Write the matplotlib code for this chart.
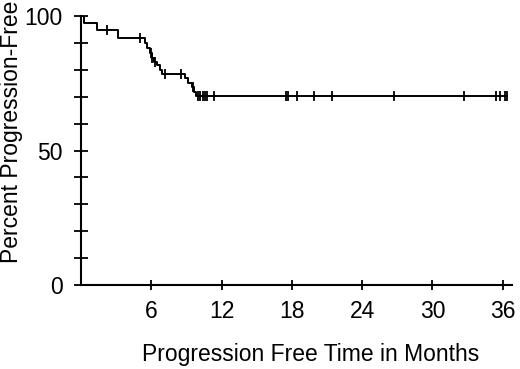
import matplotlib

matplotlib.use("Agg")
import matplotlib.pyplot as plt

plt.rcParams.update({
    "font.family": ["Liberation Sans", "DejaVu Sans"],
    "font.size": 16.5,
})

# Kaplan-Meier steps (months, percent progression-free)
step_times = [0, 0.28, 1.34, 3.18, 5.46, 5.66, 5.89, 6.03, 6.23, 6.46, 6.75, 6.94,
              8.87, 9.16, 9.44, 9.67, 9.81, 36.35]
step_pct = [100, 97.5, 94.8, 91.7, 89.9, 88.2, 86.1, 84.3, 83.0, 81.8, 80.0, 78.4,
            76.8, 75.0, 73.7, 71.9, 70.4, 70.4]

# censored observations
cens_times = [2.2, 5.05, 5.95, 6.1, 6.3, 7.2, 8.55, 9.55,
              9.96, 10.15, 10.38, 10.6, 10.8, 11.32, 17.5, 17.7, 18.4, 19.9,
              21.4, 26.7, 32.7, 35.4, 35.8, 36.2, 36.35]
cens_pct = [94.8, 91.7, 86.1, 84.3, 83.0, 78.4, 78.4, 73.7,
            70.4, 70.4, 70.4, 70.4, 70.4, 70.4, 70.4, 70.4, 70.4, 70.4,
            70.4, 70.4, 70.4, 70.4, 70.4, 70.4, 70.4]

x_ticks = [6, 12, 18, 24, 30, 36]
y_major = [0, 50, 100]
y_minor = [10, 20, 30, 40, 60, 70, 80, 90]

fig = plt.figure(figsize=(5.2, 3.69), dpi=100)
ax = fig.add_axes([81 / 520, 1 - 285 / 369, (512 - 81) / 520, (285 - 16) / 369])

ax.step(step_times, step_pct, where="post", color="black", lw=1.4)
ax.plot(cens_times, cens_pct, ls="none", marker="|", ms=7, mew=1.3, color="black")

ax.set_xlim(0, 36.8)
ax.set_ylim(0, 100)
for s in ("top", "right"):
    ax.spines[s].set_visible(False)
for s in ("left", "bottom"):
    ax.spines[s].set_linewidth(1.5)

ax.set_xticks(x_ticks)
ax.set_yticks(y_major)
ax.set_yticks(y_minor, minor=True)
ax.tick_params(axis="x", direction="inout", length=7, width=1.3, pad=7)
ax.tick_params(axis="y", which="both", direction="inout", length=10, width=1.3, pad=8)

fig.text(311 / 520, 1 - 355 / 369, "Progression Free Time in Months", ha="center", va="center")
fig.text(12 / 520, 1 - 263 / 369, "Percent Progression-Free", ha="center", va="bottom", rotation=90)

fig.savefig("out.png", dpi=100, facecolor="white")
